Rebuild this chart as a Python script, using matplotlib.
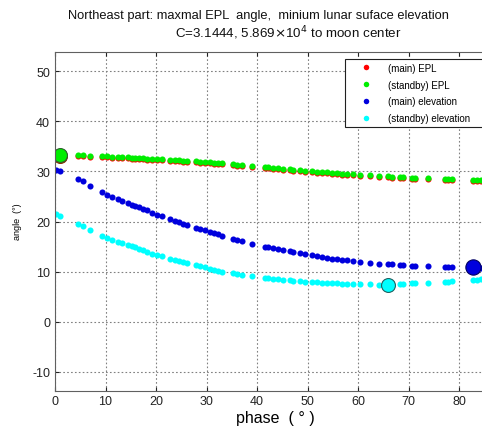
import matplotlib
matplotlib.use("Agg")
import matplotlib.pyplot as plt

plt.rcParams['font.family'] = ['Liberation Sans', 'DejaVu Sans']
plt.rcParams['axes.unicode_minus'] = False

# phase samples (deg), shared by all four series
phase = [0.2, 1.0, 4.5, 5.5, 7.0, 9.3, 10.3, 11.3, 12.5, 13.3, 14.5, 15.2, 15.8, 16.6,
         17.4, 18.2, 19.2, 20.2, 21.2, 22.8, 23.8, 24.6, 25.4, 26.1, 28.0, 28.8, 29.7,
         30.7, 31.5, 32.3, 33.0, 35.2, 36.1, 37.0, 39.0, 41.6, 42.2, 43.2, 44.2, 45.1,
         46.5, 47.1, 48.5, 49.5, 50.9, 51.9, 52.9, 53.9, 54.9, 55.8, 56.8, 57.8, 59.0,
         60.4, 62.4, 64.2, 66.0, 66.7, 68.3, 68.9, 70.7, 71.3, 73.9, 77.2, 77.9, 78.6,
         82.8, 83.6, 84.4]

standby_epl = [33.4, 33.3, 33.2, 33.2, 33.1, 33.0, 33.0, 32.9, 32.9, 32.8, 32.8, 32.7,
               32.7, 32.6, 32.6, 32.5, 32.5, 32.4, 32.4, 32.3, 32.2, 32.2, 32.1, 32.1,
               32.0, 31.9, 31.9, 31.8, 31.7, 31.7, 31.6, 31.4, 31.3, 31.3, 31.1, 30.8,
               30.8, 30.7, 30.6, 30.5, 30.4, 30.3, 30.2, 30.1, 30.0, 29.9, 29.8, 29.8,
               29.7, 29.6, 29.5, 29.5, 29.4, 29.3, 29.2, 29.1, 29.0, 28.9, 28.9, 28.8,
               28.7, 28.7, 28.6, 28.5, 28.5, 28.4, 28.3, 28.3, 28.3]

main_epl = [33.2, 33.1, 33.0, 33.0, 32.9, 32.8, 32.8, 32.7, 32.7, 32.6, 32.6, 32.5,
            32.5, 32.4, 32.4, 32.3, 32.3, 32.2, 32.2, 32.1, 32.0, 32.0, 31.9, 31.9,
            31.8, 31.7, 31.7, 31.6, 31.5, 31.5, 31.4, 31.2, 31.1, 31.1, 30.9, 30.6,
            30.6, 30.5, 30.4, 30.3, 30.2, 30.1, 30.0, 29.9, 29.8, 29.7, 29.6, 29.6,
            29.5, 29.4, 29.3, 29.3, 29.2, 29.1, 29.0, 28.9, 28.8, 28.7, 28.7, 28.6,
            28.5, 28.5, 28.4, 28.3, 28.3, 28.2, 28.1, 28.1, 28.1]

main_elev = [30.3, 30.0, 28.4, 28.0, 27.0, 25.8, 25.3, 24.9, 24.4, 24.1, 23.6, 23.3,
             23.1, 22.8, 22.5, 22.2, 21.7, 21.3, 21.0, 20.5, 20.1, 19.9, 19.6, 19.4,
             18.8, 18.5, 18.3, 18.0, 17.7, 17.5, 17.2, 16.6, 16.3, 16.1, 15.6, 15.0,
             14.9, 14.7, 14.5, 14.3, 14.1, 13.9, 13.7, 13.5, 13.3, 13.1, 13.0, 12.8,
             12.6, 12.5, 12.4, 12.3, 12.1, 12.0, 11.8, 11.6, 11.5, 11.5, 11.4, 11.3,
             11.2, 11.2, 11.1, 11.0, 11.0, 10.9, 10.9, 10.8, 10.8]

standby_elev = [21.5, 21.1, 19.5, 19.1, 18.4, 17.2, 16.8, 16.4, 16.0, 15.8, 15.4, 15.1,
                14.9, 14.6, 14.3, 14.0, 13.6, 13.3, 13.1, 12.6, 12.3, 12.1, 11.9, 11.7,
                11.3, 11.1, 10.9, 10.6, 10.4, 10.2, 10.0, 9.7, 9.5, 9.4, 9.1, 8.8,
                8.7, 8.6, 8.5, 8.4, 8.3, 8.2, 8.1, 8.0, 7.9, 7.9, 7.8, 7.8,
                7.7, 7.7, 7.6, 7.6, 7.6, 7.5, 7.5, 7.4, 7.4, 7.4, 7.5, 7.5,
                7.7, 7.7, 7.8, 8.0, 8.0, 8.1, 8.3, 8.4, 8.5]

# highlighted extremes: (phase, angle)
max_epl = (1.0, 33.3)
min_main_elev = (82.8, 10.9)
min_standby_elev = (66.0, 7.4)

xticks = [0, 10, 20, 30, 40, 50, 60, 70, 80]
yticks = [-10, 0, 10, 20, 30, 40, 50]

fig = plt.figure(figsize=(4.82, 4.27), dpi=100)
ax = fig.add_axes([55 / 482, 1 - 392 / 427, 1 - 55 / 482, (392 - 53) / 427])

ms = 4.4
ax.plot(phase, main_epl, 'o', color='#ff0000', ms=ms, mew=0, label='(main) EPL')
ax.plot(phase, standby_epl, 'o', color='#00ee00', ms=ms, mew=0, label='(standby) EPL')
ax.plot(phase, main_elev, 'o', color='#0000dd', ms=ms, mew=0, label='(main) elevation')
ax.plot(phase, standby_elev, 'o', color='#00ffff', ms=ms, mew=0, label='(standby) elevation')

ax.plot([max_epl[0]], [max_epl[1] - 0.25], 'o', color='#ff0000', ms=10, mec='#803000', mew=0.8)
ax.plot([max_epl[0]], [max_epl[1]], 'o', color='#00ee00', ms=10, mec='#306030', mew=0.8)
ax.plot([min_main_elev[0]], [min_main_elev[1]], 'o', color='#0000dd', ms=11, mec='#000060', mew=0.8)
ax.plot([min_standby_elev[0]], [min_standby_elev[1]], 'o', color='#00ffff', ms=10, mec='#206060', mew=0.8)

ax.set_xlim(0, 84.55)
ax.set_ylim(-13.8, 53.8)
ax.set_xticks(xticks)
ax.set_yticks(yticks)
ax.tick_params(direction='in', top=True, right=False, length=3, labelsize=9, colors='#222222')
ax.tick_params(axis='x', pad=3)
ax.grid(True, linestyle=(0, (1.5, 2)), color='#808080', linewidth=0.8)
ax.spines['right'].set_visible(False)
for s in ['left', 'top', 'bottom']:
    ax.spines[s].set_color('#606060')

# legend box runs past the right edge of the picture
lx0 = (345 - 55) / 427.0
ly1 = (392 - 60) / 339.0
ly0 = (392 - 128) / 339.0
leg = ax.legend(loc='upper left', bbox_to_anchor=(lx0, ly0, 0.36, ly1 - ly0), mode='expand',
                fontsize=7, frameon=True, fancybox=False, borderpad=0.4, borderaxespad=0,
                handletextpad=0.4, labelspacing=0.7, markerscale=0.9, handlelength=3.6)
leg.get_frame().set_edgecolor('#202020')
leg.get_frame().set_linewidth(0.8)
leg.get_frame().set_alpha(1)

fig.text(258 / 482, 1 - 16 / 427, 'Northeast part: maxmal EPL  angle,  minium lunar suface elevation',
         ha='center', va='center', fontsize=9.3, color='#111111')
fig.text(288 / 482, 1 - 33 / 427, r'C=3.1444, 5.869$\times$10$^{4}$ to moon center',
         ha='center', va='center', fontsize=9.6, color='#111111')
fig.text(275 / 482, 1 - 419 / 427, 'phase  ( \u00b0 )', ha='center', va='center', fontsize=11.5)
fig.text(18 / 482, 1 - 222 / 427, 'angle  (\u00b0)', ha='center', va='center', rotation=90, fontsize=6.5)

fig.savefig('out.png', dpi=100)
